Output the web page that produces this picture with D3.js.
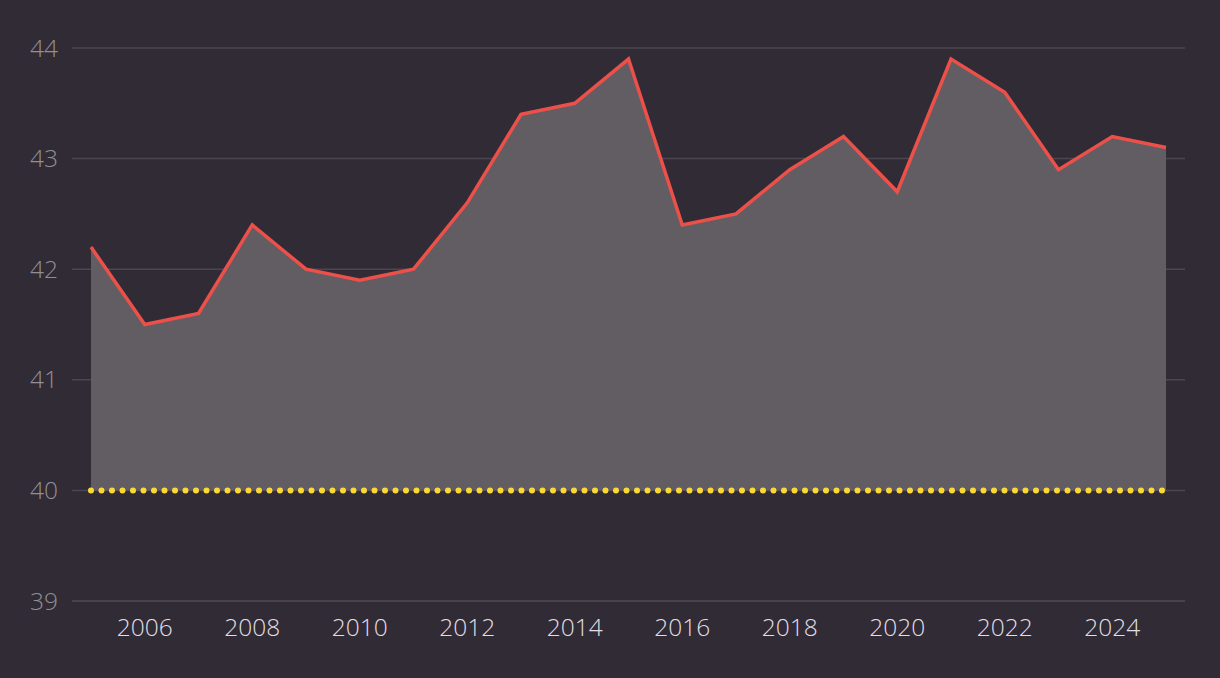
<!DOCTYPE html>
<html><head><meta charset="utf-8">
<script src="https://cdn.jsdelivr.net/npm/d3@7/dist/d3.min.js"></script>
<style>body{margin:0;background:#302b35;}svg{display:block;}</style>
</head><body>
<svg id="c" width="1220" height="678"></svg>
<script>
const years = [2005,2006,2007,2008,2009,2010,2011,2012,2013,2014,2015,2016,2017,2018,2019,2020,2021,2022,2023,2024,2025];
const values = [42.2,41.5,41.6,42.4,42.0,41.9,42.0,42.6,43.4,43.5,43.9,42.4,42.5,42.9,43.2,42.7,43.9,43.6,42.9,43.2,43.1];
const yTicks = [39,40,41,42,43,44];
const xTicks = [2006,2008,2010,2012,2014,2016,2018,2020,2022,2024];
const baseline = 40;

const svg = d3.select("#c");
const x = d3.scaleLinear().domain([2005,2025]).range([91,1166]);
const y = d3.scaleLinear().domain([39,44]).range([601,48]);
const font = "'Open Sans', 'Noto Sans', sans-serif";

// gridlines
svg.append("g").selectAll("line").data(yTicks).join("line")
  .attr("x1",72).attr("x2",1185)
  .attr("y1",d=>y(d)).attr("y2",d=>y(d))
  .attr("stroke",d=>d===39?"#504b54":"#4b464f").attr("stroke-width",1.5);

// y labels
svg.append("g").selectAll("text").data(yTicks).join("text")
  .attr("x",58).attr("y",d=>y(d)).attr("dy","0.35em")
  .attr("text-anchor","end").attr("fill","#928e96")
  .attr("font-family",font).attr("font-size",24.5).attr("font-weight",300)
  .text(d=>d);

// x labels
svg.append("g").selectAll("text").data(xTicks).join("text")
  .attr("x",d=>x(d)).attr("y",636)
  .attr("text-anchor","middle").attr("fill","#e2dee3")
  .attr("font-family",font).attr("font-size",24.5).attr("font-weight",300)
  .text(d=>d);

const data = years.map((yr,i)=>({yr,v:values[i]}));

// area
svg.append("path").datum(data)
  .attr("d",d3.area().x(d=>x(d.yr)).y0(y(baseline)).y1(d=>y(d.v)))
  .attr("fill","#625d63");

// baseline dotted
svg.append("line")
  .attr("x1",x(2005)).attr("x2",x(2025)+0.5)
  .attr("y1",y(baseline)).attr("y2",y(baseline))
  .attr("stroke","#fcd835").attr("stroke-width",6)
  .attr("stroke-linecap","round").attr("stroke-dasharray","0 10.5");

// line
svg.append("path").datum(data)
  .attr("d",d3.line().x(d=>x(d.yr)).y(d=>y(d.v)))
  .attr("fill","none").attr("stroke","#ec5049").attr("stroke-width",3.5)
  .attr("stroke-linejoin","miter");
</script>
</body></html>
